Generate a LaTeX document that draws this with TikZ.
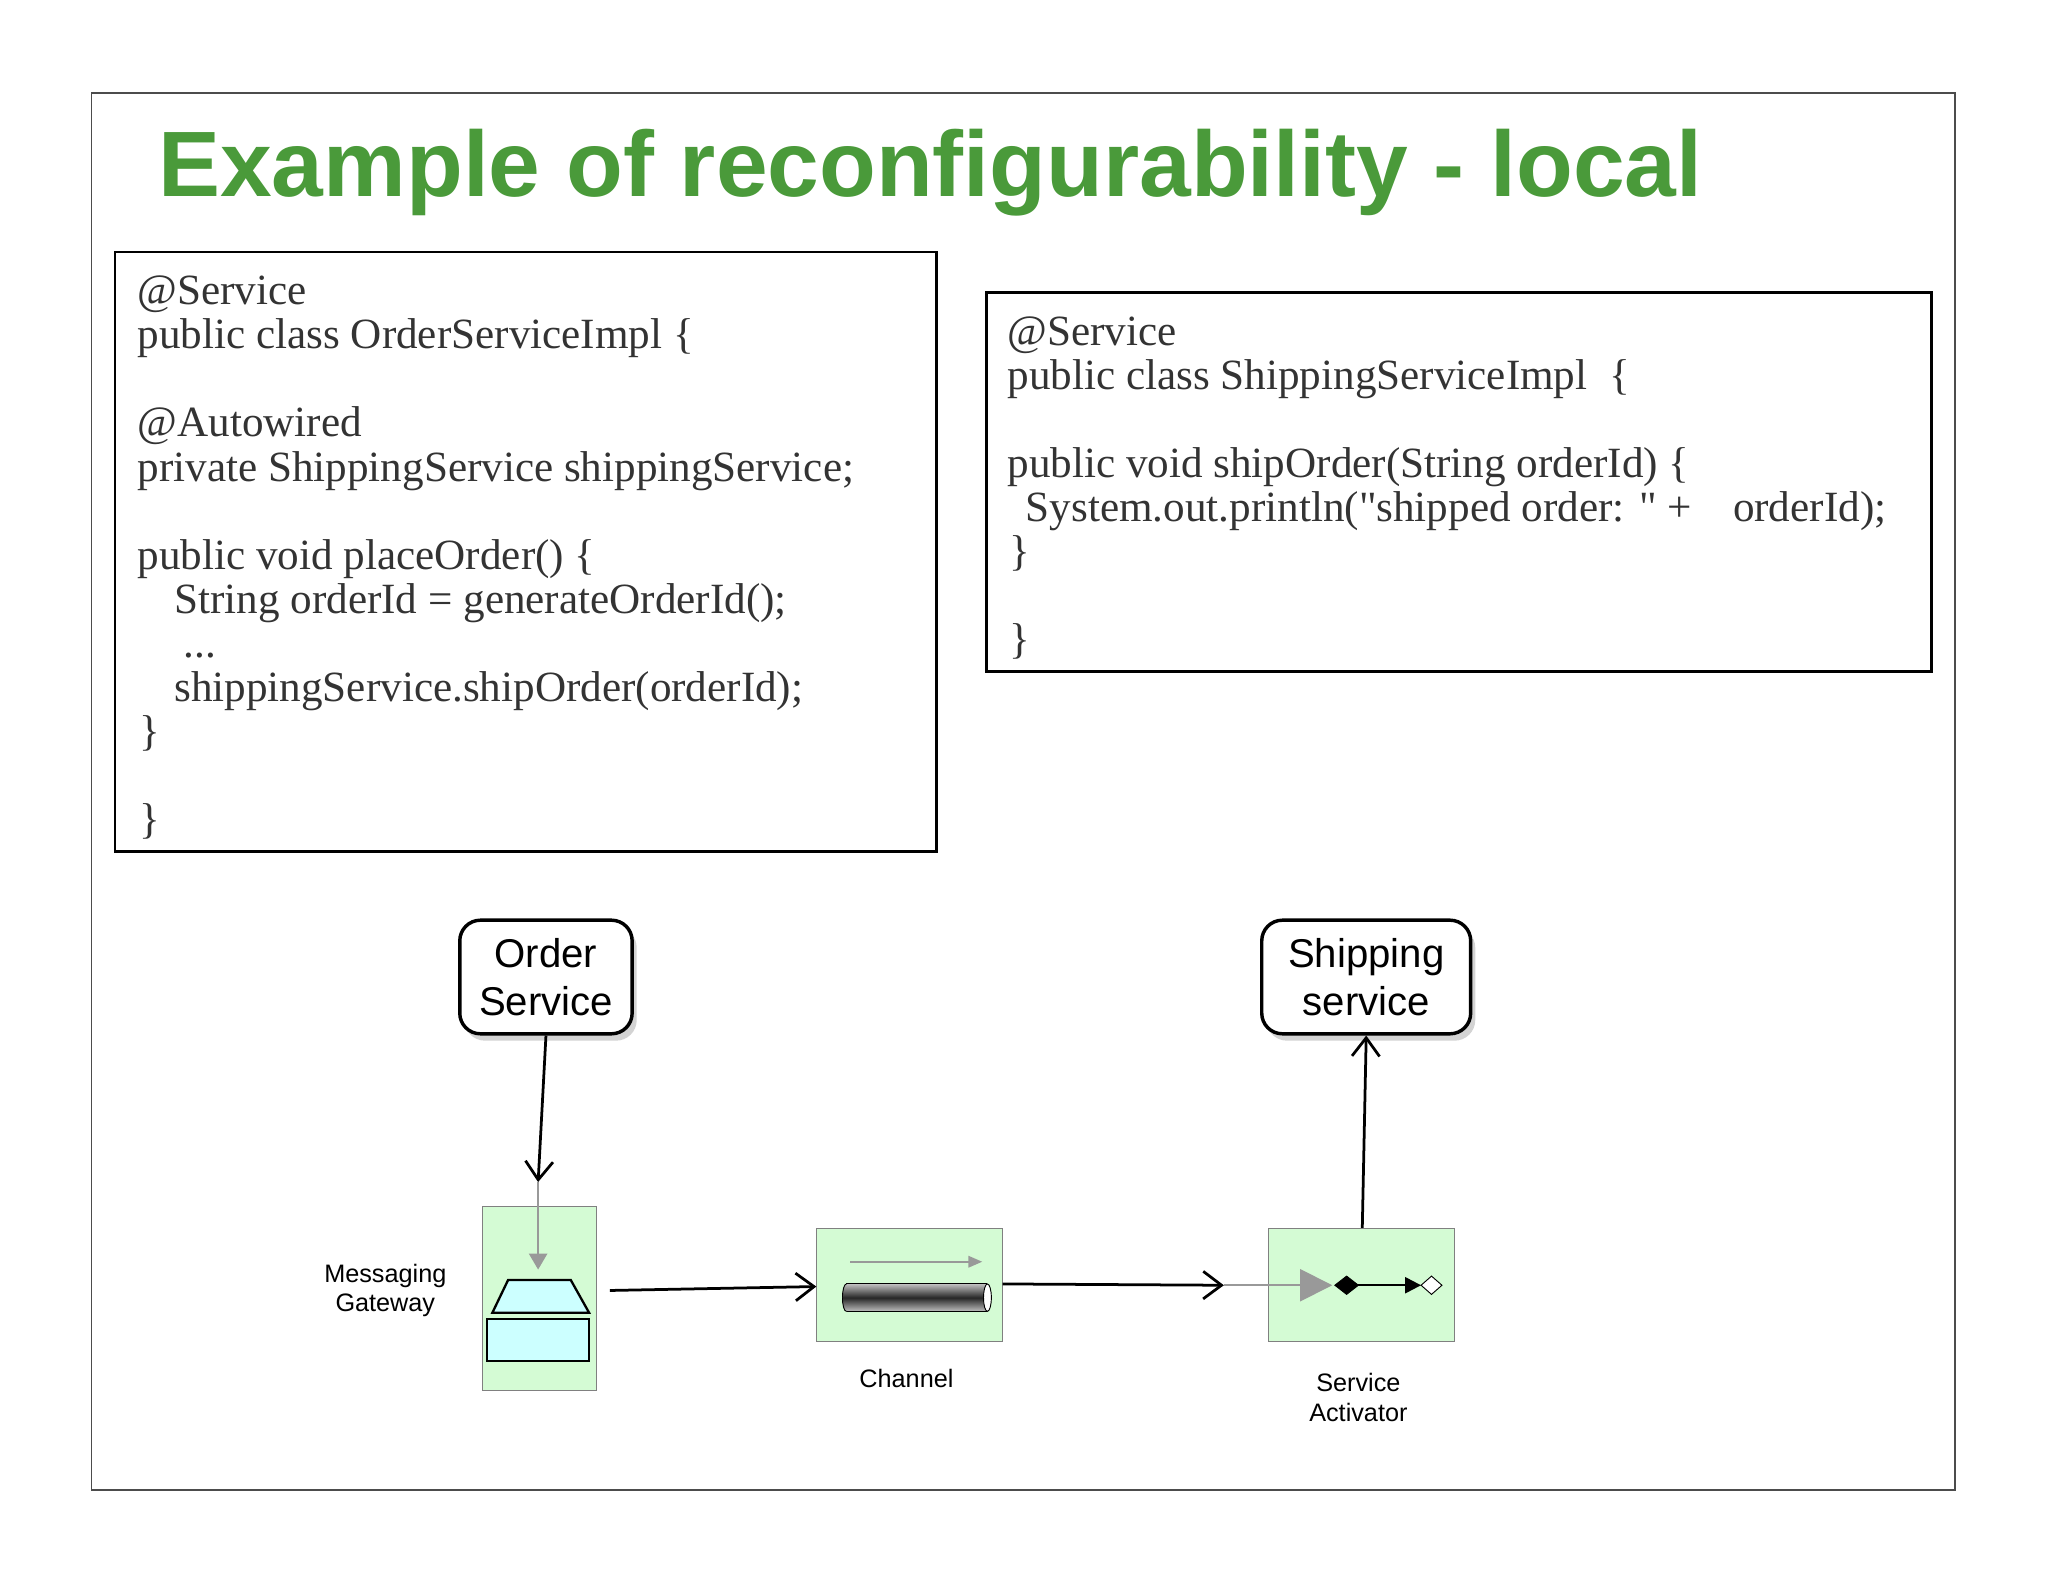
\documentclass[tikz,border=0pt]{standalone}
\usepackage{fontspec}
\setmainfont{Liberation Serif}
\newfontfamily\sansfont{Liberation Sans}
\usetikzlibrary{arrows.meta,shadows,shapes.geometric}
\definecolor{titlegreen}{HTML}{4A9A3A}
\definecolor{eipgreen}{HTML}{D4FBD4}
\definecolor{eipcyan}{HTML}{CCFFFF}
\tikzset{
  codebox/.style={draw, line width=1.2pt, anchor=north west, inner sep=0pt},
  code/.style={anchor=north west, align=left, inner sep=0pt, font=\fontsize{18.8}{19.2}\selectfont, text=black!80},
  service/.style={draw, line width=1.5pt, rounded corners=9pt, fill=white, align=center,
    font=\sansfont\fontsize{17.5}{21}\selectfont, drop shadow={shadow xshift=2pt, shadow yshift=-3pt, opacity=0.35}},
  eip/.style={draw=black!50, fill=eipgreen, anchor=north west, inner sep=0pt},
  lbl/.style={font=\sansfont\fontsize{11}{13}\selectfont, align=center},
  flow/.style={-{Straight Barb[length=8pt,width=12pt]}, line width=1.2pt},
  grayflow/.style={draw=black!40, line width=0.8pt, -{Triangle[length=7pt,width=8pt]}}
}
\begin{document}
\begin{tikzpicture}[x=0.02cm, y=-0.02cm]
\useasboundingbox (0,0) rectangle (1568,1211);
% frame and title
\draw[black!70, line width=0.8pt] (70,71) rectangle (1497,1141);
\node[anchor=west, text=titlegreen, font=\sansfont\bfseries\fontsize{40.5}{44}\selectfont] (title) at (115,132) {Example of reconfigurability - local};

% code boxes
\draw[codebox] (88,193) rectangle (717,652);
\node[code] (ordercode) at (105,211) {@Service\\
public class OrderServiceImpl \{\\
\\
@Autowired\\
private ShippingService shippingService;\\
\\
public void placeOrder() \{\\
\hspace*{16pt}String orderId = generateOrderId();\\
\hspace*{20pt}...\\
\hspace*{16pt}shippingService.shipOrder(orderId);\\
\hspace*{1pt}\}\\
\\
\hspace*{1pt}\}};
\draw[codebox] (755,224) rectangle (1479,514);
\node[code] (shipcode) at (771,242) {@Service\\
public class ShippingServiceImpl\ \ \{\\
\\
public void shipOrder(String orderId) \{\\
\hspace*{8pt}System.out.println(\textquotedbl shipped order: \textquotedbl\ +\hspace{18pt}orderId);\\
\hspace*{1pt}\}\\
\\
\hspace*{1pt}\}};

% services
\node[service, minimum width=2.64cm, minimum height=1.74cm] (order) at (418,748) {Order\\Service};
\node[service, minimum width=3.2cm, minimum height=1.74cm] (shipping) at (1046,748) {Shipping\\service};

% eip boxes
\node[eip, minimum width=1.74cm, minimum height=2.82cm] (gateway) at (369,923) {};
\node[eip, minimum width=2.84cm, minimum height=1.74cm] (channel) at (625,940) {};
\node[eip, minimum width=2.84cm, minimum height=1.74cm] (activator) at (971,940) {};

\node[lbl] (gwlabel) at (295,988) {Messaging\\Gateway};
\node[lbl] (chlabel) at (694,1055) {Channel};
\node[lbl] (salabel) at (1040,1070) {Service\\Activator};

% gateway icon
\coordinate (gwin) at (412,905);
\draw[grayflow] (gwin) -- (412,972);
\draw[fill=eipcyan, line width=1pt] (377,1005) -- (389,980) -- (437,980) -- (451,1005) -- cycle;
\draw[fill=eipcyan, line width=1pt] (373,1010) rectangle (451,1042);

% channel icon
\draw[grayflow, -{Triangle[length=6pt,width=5pt]}] (651,966) -- (752,966);
\shade[top color=black!25, bottom color=black!25, middle color=black!85] (648,983) rectangle (756,1004);
\draw (648,983) -- (756,983) (648,1004) -- (756,1004);
\shade[top color=black!25, bottom color=black!25, middle color=black!85] (648,993.5) ellipse[x radius=3, y radius=10.5];
\draw (645,993.5) arc[start angle=180, end angle=90, x radius=3, y radius=10.5];
\draw (645,993.5) arc[start angle=180, end angle=270, x radius=3, y radius=10.5];
\draw[fill=white] (756,993.5) ellipse[x radius=3, y radius=10.5];

% activator icon
\coordinate (sain) at (937,984);
\draw[grayflow, -{Triangle[length=14pt,width=14pt]}] (sain) -- (1020,984);
\draw[fill=black] (1022,984) -- (1031,977) -- (1040,984) -- (1031,991) -- cycle;
\draw[line width=1pt, -{Triangle[length=7pt,width=7pt]}] (1040,984) -- (1088,984);
\draw[fill=white] (1088,984) -- (1096,977) -- (1104,984) -- (1096,991) -- cycle;

% connectors
\draw[flow] (order.south) -- (gwin);
\draw[flow] (467,988) -- (channel.west |- 0,985);
\draw[flow] (channel.east |- 0,983) -- (sain);
\draw[flow] (activator.north -| 1043,0) -- (shipping.south);
\end{tikzpicture}
\end{document}
